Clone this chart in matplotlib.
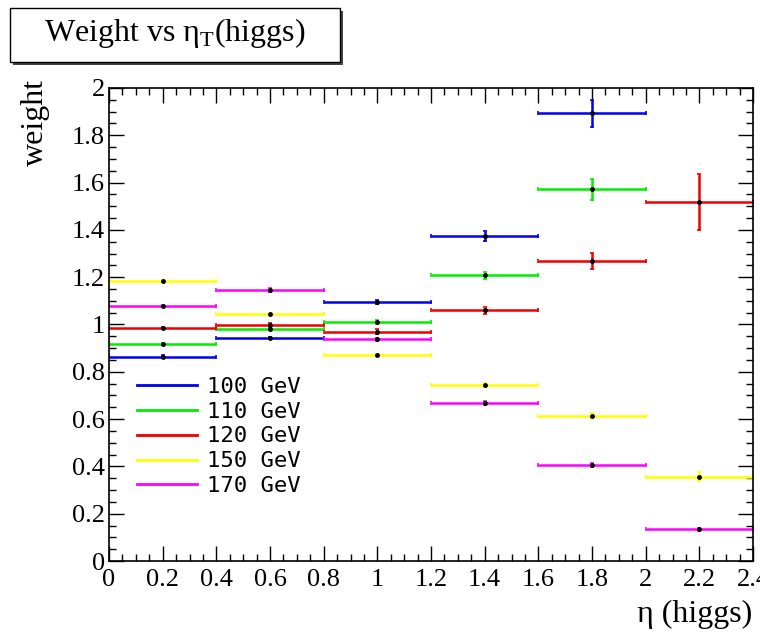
#!/usr/bin/env python3
"""Weight vs eta(higgs) for several Higgs masses, ROOT-style histogram look."""
import numpy as np
import matplotlib
matplotlib.use("Agg")
import matplotlib.pyplot as plt
from matplotlib.lines import Line2D
from matplotlib.patches import Rectangle
from matplotlib.ticker import MultipleLocator

# bin edges in eta (0.4 wide)
eta_lo = [0.0, 0.4, 0.8, 1.2, 1.6, 2.0]
bin_w = 0.4

masses = ["100 GeV", "110 GeV", "120 GeV", "150 GeV", "170 GeV"]
colors = ["#0000ee", "#00ee00", "#ee0000", "#ffff00", "#ff00ff"]

w100 = [0.863, 0.943, 1.095, 1.375, 1.893, np.nan]
e100 = [0.006, 0.006, 0.010, 0.022, 0.058, np.nan]
w110 = [0.918, 0.981, 1.011, 1.209, 1.572, np.nan]
e110 = [0.005, 0.006, 0.008, 0.015, 0.045, np.nan]
w120 = [0.985, 0.998, 0.970, 1.060, 1.268, 1.518]
e120 = [0.005, 0.010, 0.010, 0.015, 0.035, 0.118]
w150 = [1.184, 1.044, 0.872, 0.744, 0.614, 0.357]
e150 = [0.004, 0.005, 0.005, 0.008, 0.010, 0.020]
w170 = [1.078, 1.146, 0.937, 0.669, 0.407, 0.134]
e170 = [0.006, 0.007, 0.008, 0.008, 0.008, 0.006]

weights = [w100, w110, w120, w150, w170]
errors = [e100, e110, e120, e150, e170]

plt.rcParams["font.family"] = ["Liberation Serif", "DejaVu Serif"]
plt.rcParams["mathtext.fontset"] = "custom"
plt.rcParams["mathtext.rm"] = "Liberation Serif"

fig = plt.figure(figsize=(7.6, 6.41), dpi=100)
W, H = 760, 641
ax = fig.add_axes([109 / W, 1 - 561 / H, 644 / W, 473 / H])

x = np.array(eta_lo) + bin_w / 2
for w, e, c in zip(weights, errors, colors):
    ax.errorbar(x, w, xerr=bin_w / 2, yerr=e, fmt="none", ecolor=c,
                elinewidth=1.8, capsize=1.5, capthick=1.2)
for w in weights:
    ax.plot(x, w, "o", color="black", ms=2.5, zorder=5)

ax.set_xlim(0, 2.4)
ax.set_ylim(0, 2)
ax.xaxis.set_major_locator(MultipleLocator(0.2))
ax.xaxis.set_minor_locator(MultipleLocator(0.05))
ax.yaxis.set_major_locator(MultipleLocator(0.2))
ax.yaxis.set_minor_locator(MultipleLocator(0.05))
ax.tick_params(which="both", direction="in", top=True, right=True,
               labelsize=19, width=1)
ax.tick_params(which="major", length=11)
ax.tick_params(which="minor", length=5)
ax.tick_params(axis="x", which="major", pad=6)
ax.tick_params(axis="y", which="major", pad=3)
ax.xaxis.set_major_formatter(plt.FuncFormatter(lambda v, p: f"{v:g}"))
ax.yaxis.set_major_formatter(plt.FuncFormatter(lambda v, p: f"{v:g}"))
for s in ax.spines.values():
    s.set_linewidth(1.2)

fig.text(35 / W, 1 - 122 / H, "weight", rotation=90, fontsize=23,
         ha="center", va="center")
fig.text(752 / W, 1 - 614 / H, "η (higgs)", fontsize=23,
         ha="right", va="center")

handles = [Line2D([], [], color=c, lw=2) for c in colors]
leg = ax.legend(handles, masses, loc="upper left",
                bbox_to_anchor=(0.012, 0.432), frameon=False,
                prop={"family": "DejaVu Sans Mono", "size": 16},
                handlelength=2.7, labelspacing=0.22, handletextpad=0.45)

# title box with shadow
fig.patches.append(Rectangle((13 / W, 1 - 65 / H), 330 / W, 54 / H,
                             transform=fig.transFigure, facecolor="#444444",
                             edgecolor="none", zorder=1))
fig.patches.append(Rectangle((10 / W, 1 - 62 / H), 330 / W, 54 / H,
                             transform=fig.transFigure, facecolor="white",
                             edgecolor="black", lw=1, zorder=2))
fig.text(175 / W, 1 - 33 / H, r"Weight vs η$_{\mathrm{T}}$(higgs)",
         fontsize=23, ha="center", va="center", zorder=3)

fig.savefig("out.png", dpi=100)
